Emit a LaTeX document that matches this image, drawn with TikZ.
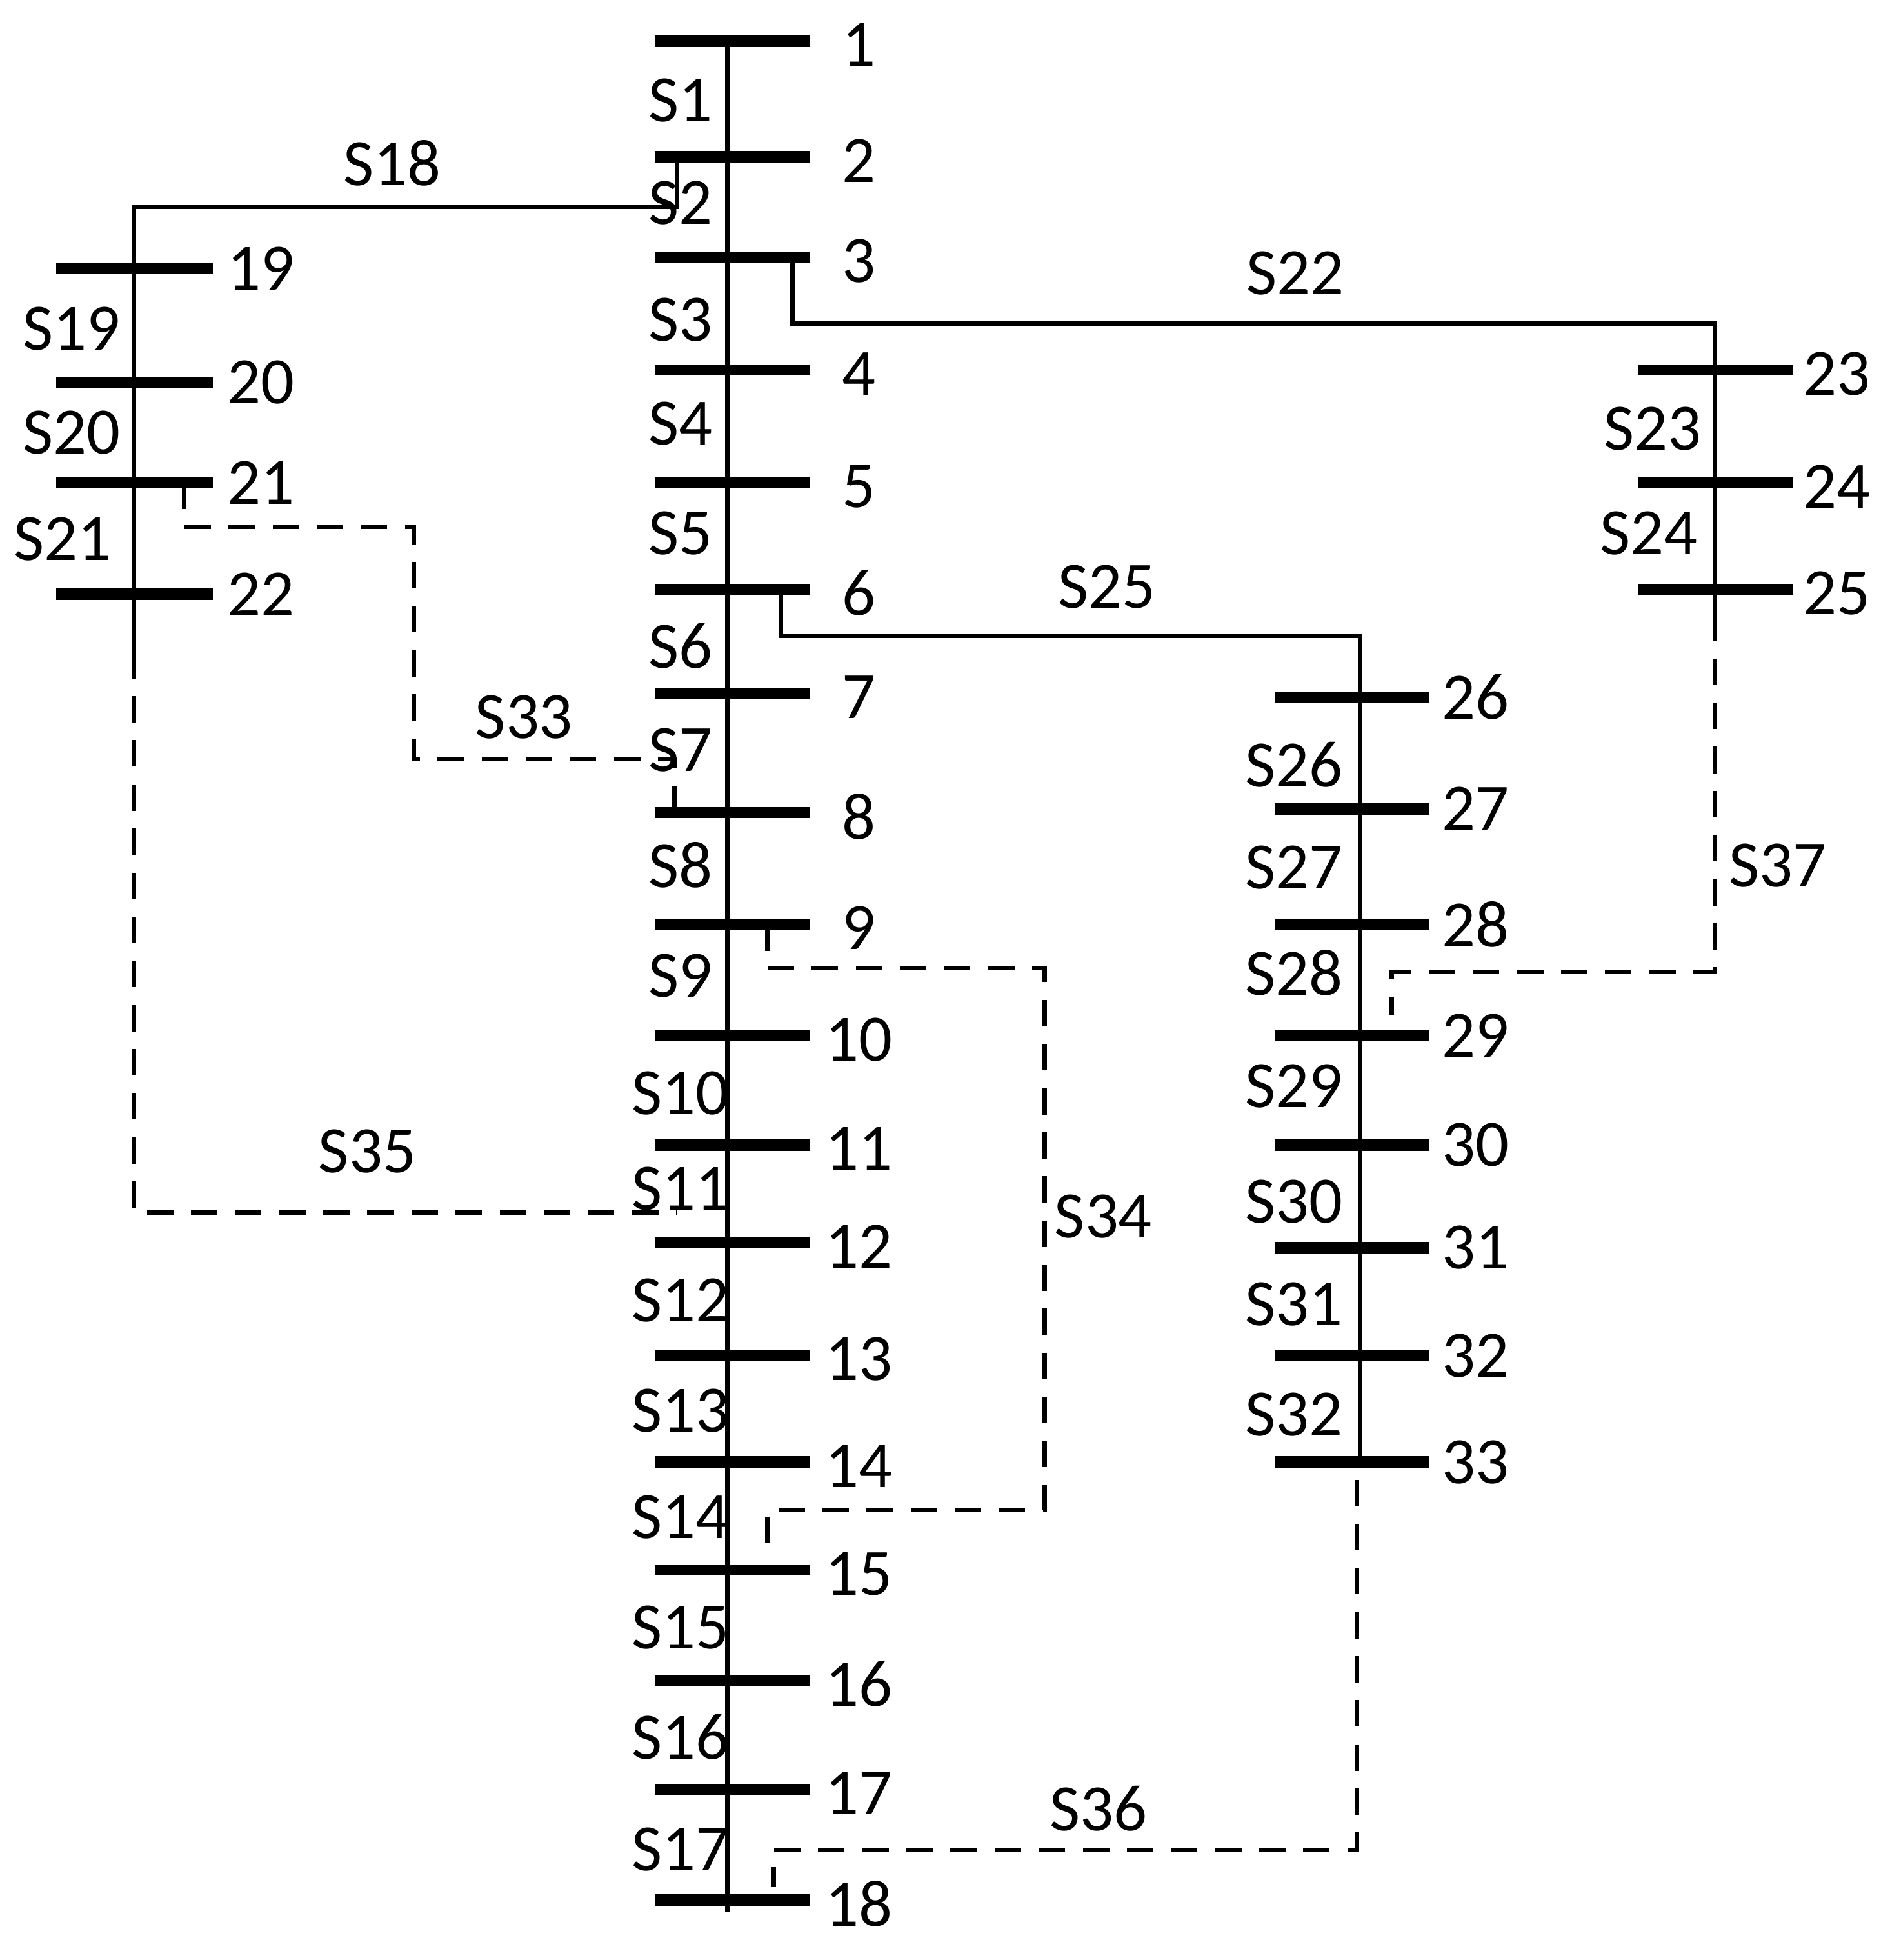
\documentclass[tikz,border=0pt]{standalone}
\usepackage{fontspec}
\setmainfont{Carlito}
\begin{document}
\begin{tikzpicture}[x=0.01cm,y=-0.01cm,
  bar/.style={line width=2.6pt},
  ln/.style={line width=1pt},
  dl/.style={line width=1pt,dashed,dash pattern=on 6pt off 4pt},
  lab/.style={font=\fontsize{15}{15}\selectfont,inner sep=0pt}]
\useasboundingbox (0,0) rectangle (1500,1563);
% main feeder
\foreach \n/\y in {1/33,2/125,3/205,4/295,5/385,6/470,7/553,8/648,9/737,10/826,11/913,12/991,13/1081,14/1166,15/1252,16/1340,17/1427,18/1515}{
  \coordinate (b\n) at (580,\y);
  \draw[bar] (522,\y) -- (646,\y);
  \node[lab] (l\n) at (685,\y+3) {\n};
}
\draw[ln] (b1) -- (580,1525);
\foreach \i/\y in {1/80,2/162,3/255,4/338,5/425,6/515,7/598,8/690,9/778,10/872,11/948,12/1037,13/1125,14/1210,15/1298,16/1385,17/1475}{
  \node[lab] (s\i) at (543,\y) {S\i};
}
% branch 19-22
\foreach \n/\y in {19/214,20/305,21/385,22/474}{
  \coordinate (b\n) at (107,\y);
  \draw[bar] (45,\y) -- (170,\y);
  \node[lab] (l\n) at (208,\y) {\n};
}
\coordinate (c18a) at (540,130);
\coordinate (c18b) at (107,165);
\draw[ln] (c18a) |- (c18b) -- (107,520);
\node[lab] (s18) at (313,130) {S18};
\node[lab] (s19) at (57,262) {S19};
\node[lab] (s20) at (57,345) {S20};
\node[lab] (s21) at (50,430) {S21};
% branch 23-25
\foreach \n/\y in {23/295,24/385,25/470}{
  \coordinate (b\n) at (1368,\y);
  \draw[bar] (1307,\y) -- (1430,\y);
  \node[lab] (l\n) at (1465,\y+3) {\n};
}
\coordinate (c22a) at (632,205);
\coordinate (c22b) at (632,258);
\coordinate (c22c) at (1368,258);
\draw[ln] (c22a) -- (c22b) -- (c22c) -- (1368,490);
\node[lab] (s22) at (1033,218) {S22};
\node[lab] (s23) at (1318,342) {S23};
\node[lab] (s24) at (1315,425) {S24};
% branch 26-33
\foreach \n/\y in {26/556,27/645,28/737,29/826,30/913,31/995,32/1081,33/1166}{
  \coordinate (b\n) at (1085,\y);
  \draw[bar] (1017,\y) -- (1140,\y);
  \node[lab] (l\n) at (1177,\y) {\n};
}
\coordinate (c25a) at (623,470);
\coordinate (c25b) at (623,507);
\coordinate (c25c) at (1085,507);
\draw[ln] (c25a) -- (c25b) -- (c25c) -- (b33);
\node[lab] (s25) at (883,468) {S25};
\foreach \i/\y in {26/610,27/692,28/776,29/866,30/958,31/1040,32/1128}{
  \node[lab] (s\i) at (1032,\y) {S\i};
}
% tie switches
\coordinate (d33a) at (147,385);
\coordinate (d33b) at (330,420);
\coordinate (d33c) at (538,605);
\draw[dl] (d33a) |- (d33b) |- (d33c) -- (538,645);
\node[lab] (s33) at (418,572) {S33};
\coordinate (d34a) at (612,737);
\coordinate (d34b) at (833,772);
\coordinate (d34c) at (612,1204);
\draw[dl] (d34a) |- (d34b) |- (d34c) -- (612,1235);
\node[lab] (s34) at (880,970) {S34};
\coordinate (d35a) at (107,520);
\coordinate (d35b) at (540,967);
\draw[dl] (d35a) |- (d35b);
\node[lab] (s35) at (293,918) {S35};
\coordinate (d36a) at (1082,1180);
\coordinate (d36b) at (617,1475);
\draw[dl] (d36a) |- (d36b) -- (617,1505);
\node[lab] (s36) at (876,1442) {S36};
\coordinate (d37a) at (1368,490);
\coordinate (d37b) at (1110,775);
\draw[dl] (d37a) |- (d37b) -- (1110,810);
\node[lab] (s37) at (1418,690) {S37};
\end{tikzpicture}
\end{document}
